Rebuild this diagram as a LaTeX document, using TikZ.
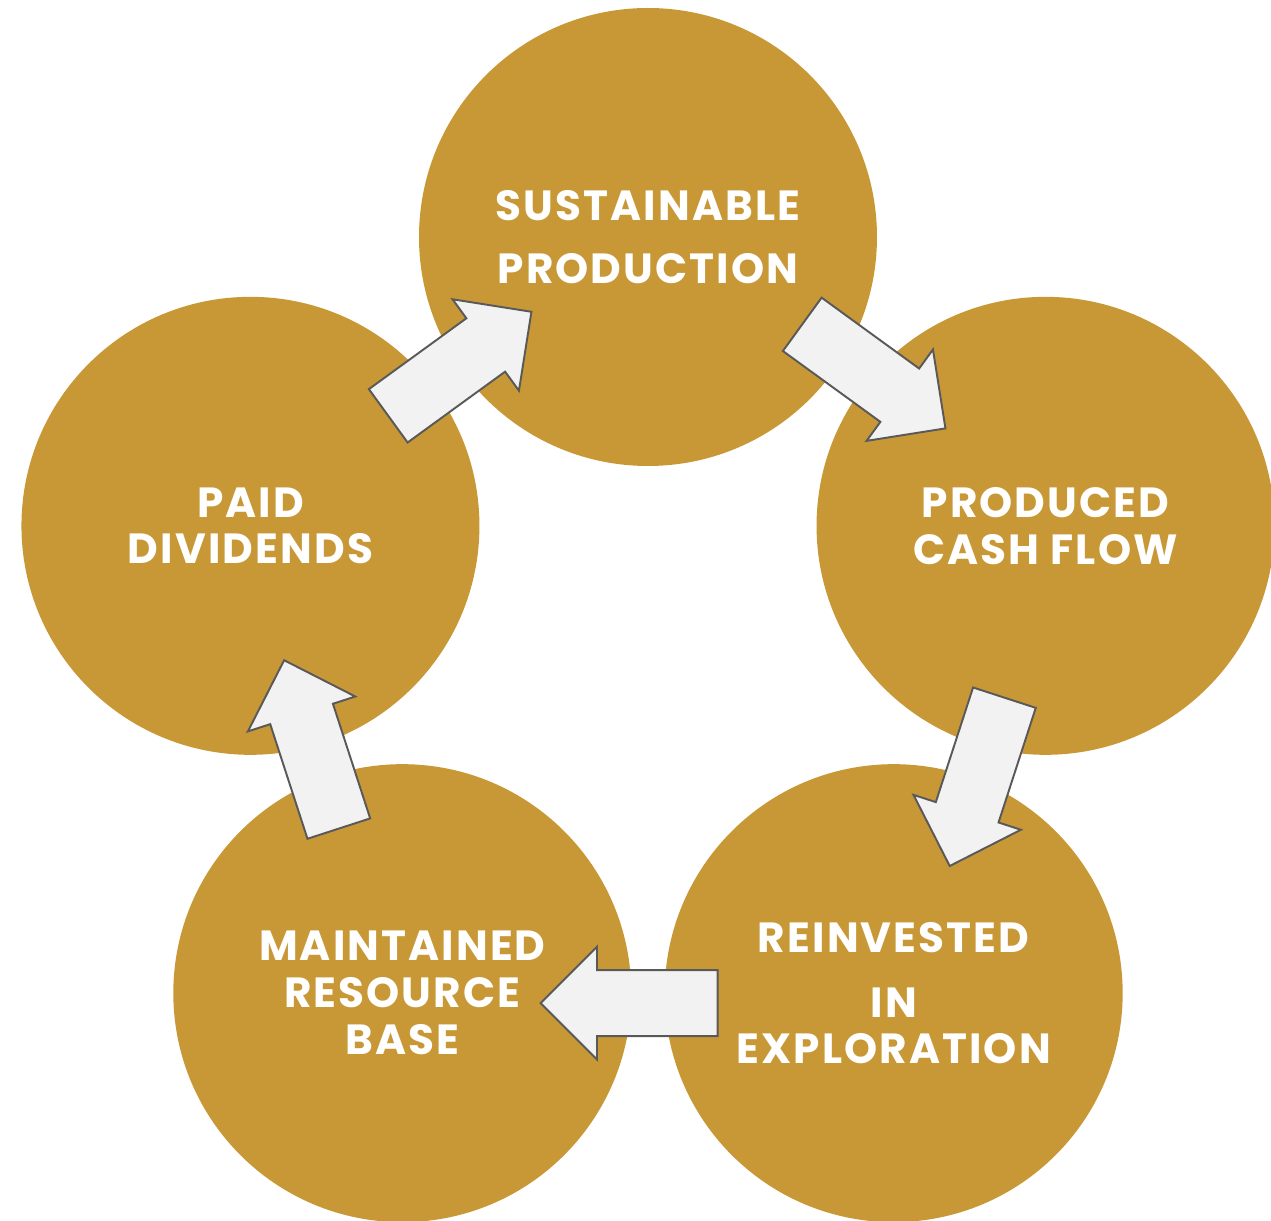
\documentclass[tikz,border=0pt]{standalone}
\usepackage{fontspec}
\setmainfont{Poppins}[LetterSpace=5]
\usepackage{xcolor}
\definecolor{gold}{RGB}{200,152,55}
\definecolor{arrowfill}{RGB}{242,242,242}
\definecolor{arrowline}{RGB}{89,89,89}
\usepackage{tikz}
\usetikzlibrary{shapes.arrows, calc}
\tikzstyle{stage} = [
    circle, fill=gold,
    minimum size=9.16cm,
    inner sep=0pt,
    text=white, align=center,
    font=\bfseries\fontsize{24}{26.7}\selectfont,
]
\tikzstyle{flow} = [
    single arrow, draw=arrowline, fill=arrowfill,
    line width=1.1pt,
    minimum height=3.54cm,
    inner xsep=0pt, inner ysep=0.64cm,
    single arrow head extend=0.47cm,
    single arrow tip angle=90,
]

\begin{document}
\begin{tikzpicture}
    \useasboundingbox (-12.96,-11.32) rectangle (12.46,13.1);
    % circles
    \foreach \x/\a/\txt in {1/90/{SUSTAINABLE\\[0.32cm]PRODUCTION},
                            2/18/{PRODUCED\\CASH FLOW},
                            3/-54/{REINVESTED\\[0.36cm]IN\\EXPLORATION},
                            4/-126/{MAINTAINED\\RESOURCE\\BASE},
                            5/162/{PAID\\DIVIDENDS}} {
        \node (c\x) at (\a:8.36cm) [stage] {\txt};
    }

    % arrows
    \foreach \x/\off [evaluate=\x as \y using {int(mod(\x,5)+1)}] in {1/0.40, 2/0.28, 3/0.20, 4/0.19, 5/0.16} {
        \path ($(c\x)!\off cm!90:(c\y)$) -- ($(c\y)!\off cm!-90:(c\x)$)
            node [flow, sloped, allow upside down, pos=0.505] (arr\x) {};
    }
\end{tikzpicture}
\end{document}
